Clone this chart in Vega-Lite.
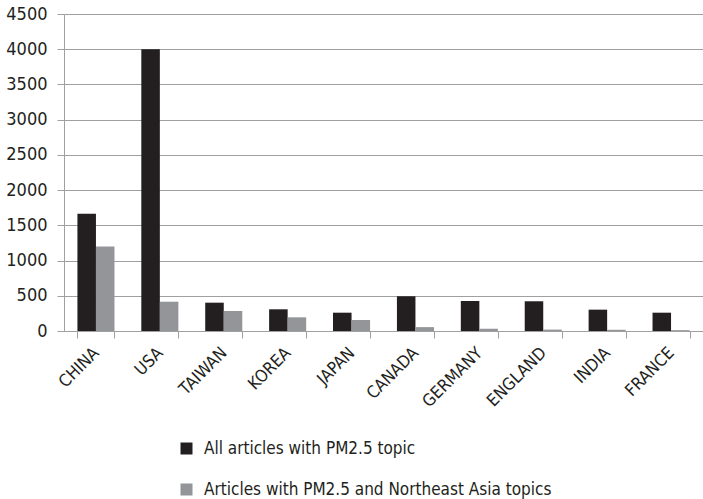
{
  "$schema": "https://vega.github.io/schema/vega-lite/v6.json",
  "width": 639,
  "height": 317,
  "autosize": "none",
  "padding": {"left": 64, "top": 14, "right": 0, "bottom": 168},
  "background": "white",
  "data": {
    "values": [
      {"country": "CHINA", "series": "All articles with PM2.5 topic", "count": 1666},
      {"country": "CHINA", "series": "Articles with PM2.5 and Northeast Asia topics", "count": 1198},
      {"country": "USA", "series": "All articles with PM2.5 topic", "count": 4000},
      {"country": "USA", "series": "Articles with PM2.5 and Northeast Asia topics", "count": 416},
      {"country": "TAIWAN", "series": "All articles with PM2.5 topic", "count": 402},
      {"country": "TAIWAN", "series": "Articles with PM2.5 and Northeast Asia topics", "count": 284},
      {"country": "KOREA", "series": "All articles with PM2.5 topic", "count": 308},
      {"country": "KOREA", "series": "Articles with PM2.5 and Northeast Asia topics", "count": 194},
      {"country": "JAPAN", "series": "All articles with PM2.5 topic", "count": 260},
      {"country": "JAPAN", "series": "Articles with PM2.5 and Northeast Asia topics", "count": 156},
      {"country": "CANADA", "series": "All articles with PM2.5 topic", "count": 493},
      {"country": "CANADA", "series": "Articles with PM2.5 and Northeast Asia topics", "count": 55},
      {"country": "GERMANY", "series": "All articles with PM2.5 topic", "count": 426},
      {"country": "GERMANY", "series": "Articles with PM2.5 and Northeast Asia topics", "count": 32},
      {"country": "ENGLAND", "series": "All articles with PM2.5 topic", "count": 422},
      {"country": "ENGLAND", "series": "Articles with PM2.5 and Northeast Asia topics", "count": 20},
      {"country": "INDIA", "series": "All articles with PM2.5 topic", "count": 303},
      {"country": "INDIA", "series": "Articles with PM2.5 and Northeast Asia topics", "count": 17},
      {"country": "FRANCE", "series": "All articles with PM2.5 topic", "count": 260},
      {"country": "FRANCE", "series": "Articles with PM2.5 and Northeast Asia topics", "count": 12}
    ]
  },
  "mark": {"type": "bar"},
  "encoding": {
    "x": {
      "field": "country",
      "type": "nominal",
      "sort": ["CHINA", "USA", "TAIWAN", "KOREA", "JAPAN", "CANADA", "GERMANY", "ENGLAND", "INDIA", "FRANCE"],
      "scale": {"paddingInner": 0.42, "paddingOuter": 0.21},
      "axis": {
        "title": null,
        "labelAngle": -45,
        "labelAlign": "right",
        "labelBaseline": "middle",
        "labelPadding": 12,
        "tickBand": "extent",
        "tickSize": 7,
        "tickColor": "#a0a0a0",
        "domainColor": "#a0a0a0",
        "labelFont": "DejaVu Sans Condensed",
        "labelFontSize": 17,
        "labelColor": "#231f20",
        "grid": false
      }
    },
    "xOffset": {
      "field": "series",
      "sort": ["All articles with PM2.5 topic", "Articles with PM2.5 and Northeast Asia topics"]
    },
    "y": {
      "field": "count",
      "type": "quantitative",
      "scale": {"domain": [0, 4500], "nice": false},
      "axis": {
        "title": null,
        "format": "d",
        "values": [0, 500, 1000, 1500, 2000, 2500, 3000, 3500, 4000, 4500],
        "tickSize": 7,
        "tickColor": "#a0a0a0",
        "domainColor": "#a0a0a0",
        "gridColor": "#a0a0a0",
        "gridWidth": 1.2,
        "labelPadding": 10,
        "labelFont": "DejaVu Sans Condensed",
        "labelFontSize": 18,
        "labelColor": "#231f20"
      }
    },
    "color": {
      "field": "series",
      "type": "nominal",
      "scale": {
        "domain": ["All articles with PM2.5 topic", "Articles with PM2.5 and Northeast Asia topics"],
        "range": ["#231f20", "#939598"]
      },
      "legend": {
        "title": null,
        "orient": "none",
        "legendX": 114,
        "legendY": 426,
        "direction": "vertical",
        "symbolType": "square",
        "symbolSize": 144,
        "symbolStrokeWidth": 0,
        "labelOffset": 9,
        "labelLimit": 0,
        "rowPadding": 23,
        "labelFont": "DejaVu Sans Condensed",
        "labelFontSize": 17,
        "labelColor": "#231f20"
      }
    }
  },
  "config": {"view": {"stroke": null}}
}
